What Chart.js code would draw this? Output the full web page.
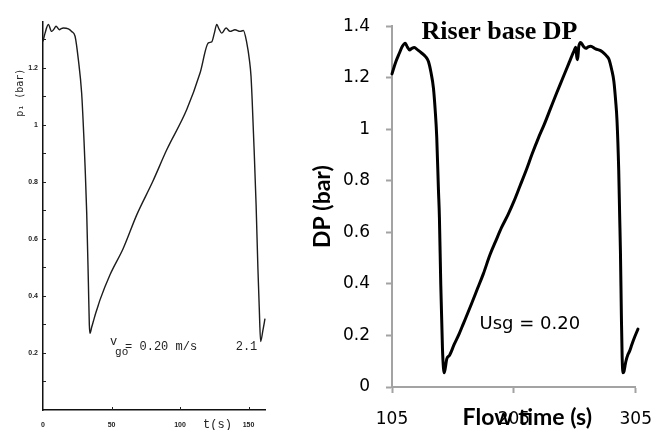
<!DOCTYPE html>
<html><head><meta charset="utf-8">
<script src="https://cdn.jsdelivr.net/npm/chart.js@4.4.1/dist/chart.umd.min.js"></script>
<style>
html,body{margin:0;padding:0;background:#fff;}
#wrap{position:relative;width:668px;height:430px;overflow:hidden;background:#fff;}
canvas{position:absolute;top:0;}
#c1{left:0;} #c2{left:285px;}
</style></head><body>
<div id="wrap"><canvas id="c1" width="285" height="430"></canvas><canvas id="c2" width="383" height="430"></canvas></div>
<script>
// ---------- data: left (scanned) chart ----------
const leftTime = [0,1.5,3.9,6.3,8,9.5,11.9,13.3,14.8,18.5,20.9,23.4,25.8,28.2,29.9,30.7,31.9,33.1,33.8,34.3,35.5,36.7,38.5,40.4,41.6,48.9,58.6,68.4,80,90.3,104.9,114.6,120.7,123.1,125,126.8,128.5,130.4,133.6,136.5,140.1,143.8,146.2,148.7,150.6,151.8,152.6,154,155.5,156.8,157.8,158.8,160.5,162];
const leftP    = [1.292,1.321,1.351,1.327,1.335,1.345,1.333,1.337,1.339,1.336,1.327,1.31,1.228,1.111,0.947,0.854,0.69,0.45,0.30,0.269,0.29,0.31,0.34,0.368,0.386,0.474,0.567,0.684,0.80,0.912,1.053,1.181,1.287,1.29,1.32,1.351,1.335,1.321,1.339,1.327,1.333,1.327,1.33,1.287,1.228,1.17,1.09,0.92,0.72,0.5,0.36,0.24,0.28,0.32];
const leftXTicks = [0,50,100,150];
const leftYTicks = [0.2,0.4,0.6,0.8,1,1.2];
const leftYMinor = [0.1,0.2,0.3,0.4,0.5,0.6,0.7,0.8,0.9,1.0,1.1,1.2,1.3];

// ---------- data: right chart ----------
const rightTime = [105,108,111,113.5,115.9,117.5,119.4,121.3,123.3,126,129.5,132.5,134.9,137,139,140.5,141.7,143.1,143.9,145,146.4,147.2,147.8,148.6,150,152.1,156,160,163.5,170,175,180,185.3,190,195,200.3,205,210,215,220,225,230,235,240,244.8,250,254,255.8,256.6,257.3,258.2,259.8,262,264,266,268,272,276.1,279,281,283,285.3,287,288.5,289.6,291,291.8,292.4,293.2,293.8,294.5,295.3,296.1,296.9,298.5,300,301.8,304,306.8];
const rightDP   = [1.215,1.26,1.295,1.322,1.334,1.32,1.308,1.314,1.317,1.308,1.295,1.282,1.263,1.22,1.16,1.07,0.97,0.766,0.658,0.40,0.15,0.075,0.055,0.07,0.11,0.122,0.165,0.205,0.245,0.32,0.38,0.44,0.512,0.565,0.62,0.67,0.72,0.78,0.84,0.905,0.965,1.02,1.08,1.14,1.195,1.255,1.30,1.318,1.28,1.27,1.32,1.337,1.322,1.314,1.32,1.322,1.312,1.305,1.295,1.285,1.272,1.23,1.187,1.11,1.034,0.842,0.66,0.53,0.275,0.12,0.055,0.06,0.08,0.10,0.125,0.14,0.165,0.193,0.225];
const rightXTicks = [105,205,305];
const rightYTicks = [0,0.2,0.4,0.6,0.8,1,1.2,1.4];

const fmt = v => String(Number(v.toFixed(2)));
const pts = (xs, ys) => xs.map((x,i)=>({x:x, y:ys[i]}));

const annotPlugin = {
  id: 'annot',
  afterDraw(chart, args, opts) {
    const ctx = chart.ctx, xs = chart.scales.x, ys = chart.scales.y;
    (opts.items || []).forEach(it => {
      ctx.save();
      ctx.font = it.font; ctx.fillStyle = it.color || '#000';
      ctx.textAlign = it.align || 'left'; ctx.textBaseline = it.baseline || 'alphabetic';
      ctx.translate(xs.getPixelForValue(it.x), ys.getPixelForValue(it.y));
      if (it.rotate) ctx.rotate(it.rotate);
      ctx.fillText(it.text, 0, 0);
      ctx.restore();
    });
  }
};

const innerTicks = {
  id: 'innerTicks',
  afterDraw(chart, args, opts) {
    if (!opts.enabled) return;
    const ctx = chart.ctx, xs = chart.scales.x, ys = chart.scales.y, a = chart.chartArea;
    ctx.save(); ctx.strokeStyle = '#222'; ctx.lineWidth = 1;
    ctx.beginPath();
    leftYMinor.forEach(v => { const y = Math.round(ys.getPixelForValue(v)) + 0.5; ctx.moveTo(a.left, y); ctx.lineTo(a.left + 3, y); });
    leftXTicks.slice(1).forEach(v => { const x = Math.round(xs.getPixelForValue(v)) + 0.5; ctx.moveTo(x, a.bottom); ctx.lineTo(x, a.bottom - 3); });
    ctx.stroke(); ctx.restore();
  }
};

// ---------- left chart ----------
new Chart(document.getElementById('c1'), {
  type: 'line',
  data: { datasets: [{ data: pts(leftTime, leftP), borderColor: '#1c1c1c', borderWidth: 1.4, pointRadius: 0, cubicInterpolationMode: 'monotone', clip: false }] },
  options: {
    responsive: false, animation: false, devicePixelRatio: 1,
    layout: { padding: { left: 0, top: 22, right: 20, bottom: 0 } },
    plugins: {
      legend: { display: false }, tooltip: { enabled: false },
      innerTicks: { enabled: true },
      annot: { items: [
        { text: 'v', x: 48.9, y: 0.228, font: '12px "Liberation Mono"', color: '#222' },
        { text: 'go', x: 52.6, y: 0.193, font: '11px "Liberation Mono"', color: '#222' },
        { text: '= 0.20 m/s', x: 59.9, y: 0.211, font: '12px "Liberation Mono"', color: '#222' },
        { text: '2.1', x: 140.6, y: 0.211, font: '12px "Liberation Mono"', color: '#222' },
        { text: 't(s)', x: 116.8, y: -0.063, font: '12px "Liberation Mono"', color: '#222' },
        { text: 'p\u2081 (bar)', x: -16.8, y: 1.112, font: '10px "DejaVu Sans Mono"', color: '#222', align: 'center', baseline: 'middle', rotate: -Math.PI/2 }
      ] }
    },
    scales: {
      x: { type: 'linear', min: 0, max: 162,
        afterFit: s => { s.height = 20; },
        afterBuildTicks: s => { s.ticks = leftXTicks.map(v => ({ value: v })); },
        grid: { drawOnChartArea: false, drawTicks: false },
        border: { display: true, color: '#111', width: 1.5 },
        ticks: { padding: 11, font: { family: 'Liberation Sans', size: 7, weight: 'bold' }, color: '#222', maxRotation: 0, callback: v => fmt(v) } },
      y: { min: 0, max: 1.36,
        afterFit: s => { s.width = 43; },
        afterBuildTicks: s => { s.ticks = leftYTicks.map(v => ({ value: v })); },
        grid: { drawOnChartArea: false, drawTicks: false },
        border: { display: true, color: '#111', width: 1.5 },
        ticks: { padding: 5, font: { family: 'Liberation Sans', size: 7, weight: 'bold' }, color: '#222', callback: v => fmt(v) } }
    }
  },
  plugins: [annotPlugin, innerTicks]
});

// ---------- right chart ----------
const axisGray = '#a3a3a3';
new Chart(document.getElementById('c2'), {
  type: 'line',
  data: { datasets: [{ data: pts(rightTime, rightDP), borderColor: '#000', borderWidth: 3, pointRadius: 0, cubicInterpolationMode: 'monotone', clip: false, borderJoinStyle: 'round', borderCapStyle: 'round' }] },
  options: {
    responsive: false, animation: false, devicePixelRatio: 1,
    layout: { padding: { left: 0, top: 21, right: 31, bottom: 0 } },
    plugins: {
      legend: { display: false }, tooltip: { enabled: false },
      innerTicks: { enabled: false },
      annot: { items: [
        { text: 'Riser base DP', x: 193.2, y: 1.349, font: 'bold 26px "Liberation Serif"', align: 'center' },
        { text: 'Usg = 0.20', x: 176.8, y: 0.226, font: '18px "DejaVu Sans"' },
        { text: 'Flow time (s)', x: 216, y: -0.149, font: 'bold 23px Lato', align: 'center' }
      ] }
    },
    scales: {
      x: { type: 'linear', min: 105, max: 305,
        afterFit: s => { s.height = 43; },
        afterBuildTicks: s => { s.ticks = rightXTicks.map(v => ({ value: v })); },
        grid: { drawOnChartArea: false, drawTicks: true, tickLength: 6, tickColor: axisGray, tickWidth: 2 },
        border: { display: true, color: axisGray, width: 2 },
        ticks: { padding: 16, font: { family: 'DejaVu Sans', size: 17 }, color: '#000', maxRotation: 0, callback: v => fmt(v) } },
      y: { min: 0, max: 1.4,
        afterFit: s => { s.width = 107; },
        afterBuildTicks: s => { s.ticks = rightYTicks.map(v => ({ value: v })); },
        grid: { drawOnChartArea: false, drawTicks: true, tickLength: 6, tickColor: axisGray, tickWidth: 2 },
        border: { display: true, color: axisGray, width: 2 },
        ticks: { padding: 16, font: { family: 'DejaVu Sans', size: 17 }, color: '#000', callback: v => fmt(v) },
        title: { display: true, text: 'DP (bar)', font: { family: 'Lato', size: 23, weight: 'bold' }, color: '#000', padding: { top: 24, bottom: 0 } } }
    }
  },
  plugins: [annotPlugin]
});
</script>
</body></html>
